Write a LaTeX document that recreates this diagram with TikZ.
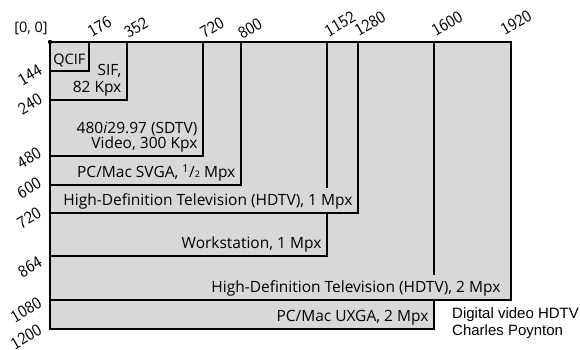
\documentclass[tikz,border=0pt]{standalone}
\usepackage{fontspec}
\setmainfont{Open Sans}
\newfontfamily\creditfont{Liberation Sans}
\newcommand{\tickfont}{\fontencoding{OT1}\fontfamily{cmss}\fontseries{m}\fontshape{n}}
\definecolor{paper}{RGB}{216, 216, 216}

\begin{document}
\begin{tikzpicture}[x=1pt, y=1pt,
    box/.style={draw=black, line width=1.3pt},
    lbl/.style={inner xsep=5pt, inner ysep=3pt, outer sep=0.65pt,
                anchor=south east, align=right, font=\fontsize{15.5}{17}\selectfont},
    ticklbl/.style={inner sep=0pt, rotate=30, font=\tickfont\fontsize{17}{18}\selectfont}]
    \useasboundingbox (0,0) rectangle (580,-349);
    \coordinate (o) at (50,-42);
    \coordinate (qcif) at (89,-71);
    \coordinate (sif) at (127,-100);
    \coordinate (sdtv) at (203,-156);
    \coordinate (svga) at (241,-185);
    \coordinate (hd1) at (358,-213);
    \coordinate (ws) at (327,-256);
    \coordinate (hd2) at (511,-300);
    \coordinate (uxga) at (434,-329);
    \fill[paper] (o) rectangle (hd2) (o) rectangle (uxga);
    \foreach \c in {qcif, sif, sdtv, svga, hd1, ws, hd2, uxga}
      \draw[box] (o) rectangle (\c);
    \fill (o) circle (2.2pt);
    \node[lbl, inner xsep=3pt, font=\fontsize{14.5}{15}\selectfont] (qciflbl) at (qcif) {QCIF};
    \node[lbl] (siflbl) at (sif) {SIF,\\82 Kpx};
    \node[lbl, font=\fontsize{15.5}{15.5}\selectfont] (sdtvlbl) at (sdtv) {480\textit{i}29.97 (SDTV)\\Video, 300 Kpx};
    \node[lbl] (svgalbl) at (svga) {PC/Mac SVGA, \textsuperscript{1}/{\small 2} Mpx};
    \node[lbl, fill=paper, text height=14.5pt] (hd1lbl) at (hd1) {High-Definition Television (HDTV), 1 Mpx};
    \node[lbl] (wslbl) at (ws) {Workstation, 1 Mpx};
    \node[lbl, fill=paper, inner xsep=10pt, text height=15pt] (hd2lbl) at (hd2) {High-Definition Television (HDTV), 2 Mpx};
    \node[lbl] (uxgalbl) at (uxga) {PC/Mac UXGA, 2 Mpx};
    \node[inner sep=0pt, font=\fontsize{14.5}{15}\selectfont] (orig) at (31,-28.5) {[0, 0]};
    \node[ticklbl] (x176) at (99.5,-26.5) {176};
    \node[ticklbl] (x352) at (136,-27.5) {352};
    \node[ticklbl] (x720) at (212,-27.5) {720};
    \node[ticklbl] (x800) at (250,-28.5) {800};
    \node[ticklbl] (x1152) at (340,-24) {1152};
    \node[ticklbl] (x1280) at (370,-23.5) {1280};
    \node[ticklbl] (x1600) at (447,-23.5) {1600};
    \node[ticklbl] (x1920) at (516,-22.5) {1920};
    \node[ticklbl] (y144) at (30,-75) {144};
    \node[ticklbl] (y240) at (30,-104) {240};
    \node[ticklbl] (y480) at (29,-158) {480};
    \node[ticklbl] (y600) at (29,-188) {600};
    \node[ticklbl] (y720) at (29,-218) {720};
    \node[ticklbl] (y864) at (30,-267) {864};
    \node[ticklbl] (y1080) at (26,-310) {1080};
    \node[ticklbl] (y1200) at (26,-337) {1200};
    \node[anchor=north west, inner sep=0pt, align=left,
          font=\creditfont\fontsize{15}{17}\selectfont] (credit) at (452,-307)
          {Digital video HDTV\\Charles Poynton};
\end{tikzpicture}
\end{document}
